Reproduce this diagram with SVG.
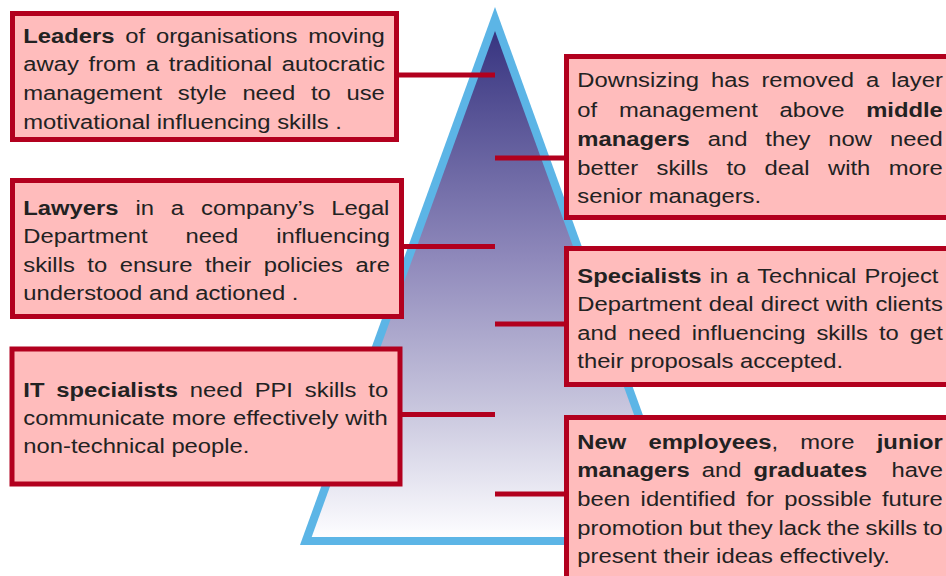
<svg xmlns="http://www.w3.org/2000/svg" width="946" height="576" viewBox="0 0 946 576">
  <style>
    .box { fill: #ffbcbc; stroke: #b2001e; stroke-width: 5; }
    .link { stroke: #b2001e; stroke-width: 5; fill: none; }
    .t { font-family: "Liberation Sans", Arial, Helvetica, sans-serif; font-size: 20px; fill: #222222; }
    .b { font-weight: bold; }
    .e { text-anchor: end; }
  </style>
  <defs>
    <linearGradient id="pyrFill" gradientUnits="userSpaceOnUse" x1="0" y1="31" x2="0" y2="537">
      <stop offset="0" stop-color="#373480"/>
      <stop offset="0.45" stop-color="#8f89bb"/>
      <stop offset="0.75" stop-color="#c9c7de"/>
      <stop offset="1" stop-color="#fdfdff"/>
    </linearGradient>
  </defs>

  <!-- pyramid -->
  <g id="pyramid">
    <polygon points="495,7 300,545 690,545" fill="#5cb5e6"/>
    <polygon points="495,31 311.7,537 678.3,537" fill="url(#pyrFill)"/>
  </g>

  <!-- connectors -->
  <g id="connectors">
    <line class="link" x1="398" y1="75" x2="495" y2="75"/>
    <line class="link" x1="495" y1="158" x2="566" y2="158"/>
    <line class="link" x1="402" y1="246.5" x2="495" y2="246.5"/>
    <line class="link" x1="495" y1="324" x2="566" y2="324"/>
    <line class="link" x1="400" y1="414.5" x2="495" y2="414.5"/>
    <line class="link" x1="495" y1="494" x2="566" y2="494"/>
  </g>

  <!-- text is set at 20px and widened 1.19x; justified lines use word-spacing -->

  <!-- left: leaders -->
  <g id="leaders">
    <rect class="box" x="12.5" y="13.5" width="384" height="126"/>
    <text class="t" transform="scale(1.19 1)"><tspan x="19.58" y="42.7" word-spacing="3.5"><tspan class="b">Leaders</tspan> of organisations moving</tspan><tspan x="19.58" y="71.4" word-spacing="2.63">away from a traditional autocratic</tspan><tspan x="19.58" y="100" word-spacing="7.62">management style need to use</tspan><tspan x="19.58" y="128.6">motivational influencing skills .</tspan></text>
  </g>

  <!-- left: lawyers -->
  <g id="lawyers">
    <rect class="box" x="12.5" y="180.5" width="389" height="136"/>
    <text class="t" transform="scale(1.19 1)"><tspan x="19.58" y="215" word-spacing="8.67"><tspan class="b">Lawyers</tspan> in a company’s Legal</tspan><tspan x="19.58" y="243.4" word-spacing="26.24">Department need influencing</tspan><tspan x="19.58" y="271.7" word-spacing="4.95">skills to ensure their policies are</tspan><tspan x="19.58" y="300">understood and actioned .</tspan></text>
  </g>

  <!-- left: IT specialists -->
  <g id="it-specialists">
    <rect class="box" x="12" y="349" width="388" height="135"/>
    <text class="t" transform="scale(1.19 1)"><tspan x="19.58" y="396.7" word-spacing="4.43"><tspan class="b">IT specialists</tspan> need PPI skills to</tspan><tspan x="19.58" y="425" word-spacing="0.36">communicate more effectively with</tspan><tspan x="19.58" y="453.3">non-technical people.</tspan></text>
  </g>

  <!-- right: middle managers -->
  <g id="middle-managers">
    <rect class="box" x="566.5" y="56.5" width="400" height="161"/>
    <text class="t" transform="scale(1.19 1)"><tspan x="485.13" y="87.3" word-spacing="4.58">Downsizing has removed a layer</tspan><tspan x="485.13" y="116.7" word-spacing="12.76">of management above <tspan class="b">middle</tspan></tspan><tspan x="485.13" y="146.3" word-spacing="9.57"><tspan class="b">managers</tspan> and they now need</tspan><tspan x="485.13" y="175" word-spacing="9.89">better skills to deal with more</tspan><tspan x="485.13" y="203.3">senior managers.</tspan></text>
  </g>

  <!-- right: technical specialists -->
  <g id="technical-specialists">
    <rect class="box" x="566.5" y="248.5" width="400" height="136"/>
    <text class="t" transform="scale(1.19 1)"><tspan x="485.13" y="282.7" word-spacing="1.24"><tspan class="b">Specialists</tspan> in a Technical Project</tspan><tspan x="485.13" y="311.5" word-spacing="0.41">Department deal direct with clients</tspan><tspan x="485.13" y="340" word-spacing="3.65">and need influencing skills to get</tspan><tspan x="485.13" y="368.3">their proposals accepted.</tspan></text>
  </g>

  <!-- right: new employees -->
  <g id="new-employees">
    <rect class="box" x="566.5" y="417.5" width="400" height="200"/>
    <text class="t" transform="scale(1.19 1)"><tspan x="485.13" y="449.3" word-spacing="13.15"><tspan class="b">New employees</tspan>, more <tspan class="b">junior</tspan></tspan><tspan x="485.13" y="477.5" word-spacing="4.57"><tspan class="b">managers</tspan> and <tspan class="b">graduates</tspan></tspan><tspan class="e" x="792.44" y="477.5">have</tspan><tspan x="485.13" y="506" word-spacing="3.18">been identified for possible future</tspan><tspan x="485.13" y="535" word-spacing="-0.66">promotion but they lack the skills to</tspan><tspan x="485.13" y="563.3">present their ideas effectively.</tspan></text>
  </g>
</svg>
